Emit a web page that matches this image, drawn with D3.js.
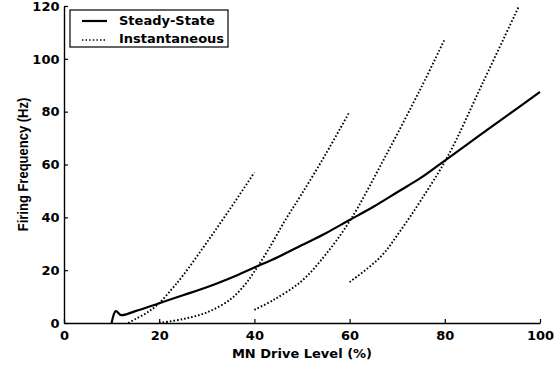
<!DOCTYPE html>
<html>
<head>
<meta charset="utf-8">
<script src="https://cdn.jsdelivr.net/npm/d3@7"></script>
<style>
  body { margin: 0; background: #fff; }
  svg { display: block; }
  .tick text, .lbl { font-family: "DejaVu Sans", sans-serif; font-weight: bold; fill: #000; }
</style>
</head>
<body>
<div id="chart"></div>
<script>
// data (drive level %, firing rate Hz)
const steadyDrive = [10, 10.9, 12, 15, 20, 25, 30, 35, 40, 45, 50, 55, 60, 65, 70, 75, 80, 85, 90, 95, 100];
const steadyFreq  = [0, 4.5, 3, 4.5, 7.5, 10.5, 13.5, 17, 21, 25, 29.5, 34, 39, 44, 49.5, 55, 61.5, 68, 74.5, 81, 87.5];

const instA_drive = [13.5, 15, 17.5, 20, 22.5, 25, 30, 35, 40];
const instA_freq  = [0, 1.5, 4, 7.5, 12.5, 18, 30.5, 43.5, 57];
const instB_drive = [20, 25, 30, 35, 38, 40, 43, 46.5, 50, 55, 60];
const instB_freq  = [0, 1.5, 4, 9, 14.5, 19.5, 28, 39, 49, 64, 80];
const instC_drive = [40, 44, 50, 55, 60, 67.5, 75, 80];
const instC_freq  = [5, 8.7, 16, 26, 38.5, 63, 89, 107.5];
const instD_drive = [60, 66.5, 70.7, 75, 80.6, 88, 95.6];
const instD_freq  = [15.5, 25, 35, 46.5, 63, 91, 120];

const xTicks = [0, 20, 40, 60, 80, 100];
const yTicks = [0, 20, 40, 60, 80, 100, 120];
const legendLabels = ['Steady-State', 'Instantaneous'];
const xTitle = 'MN Drive Level (%)';
const yTitle = 'Firing Frequency (Hz)';

const W = 560, H = 367;
const svg = d3.select('#chart').append('svg').attr('width', W).attr('height', H);

const x = d3.scaleLinear().domain([0, 100]).range([64, 540]);
const y = d3.scaleLinear().domain([0, 120]).range([323, 6]);

// axes, ticks pointing inward
const xAxis = d3.axisBottom(x).tickValues(xTicks).tickSizeInner(-4).tickSizeOuter(0).tickPadding(8);
const yAxis = d3.axisLeft(y).tickValues(yTicks).tickSizeInner(-4).tickSizeOuter(0).tickPadding(4.5);

const gx = svg.append('g').attr('transform', `translate(0,${y(0)})`).call(xAxis);
const gy = svg.append('g').attr('transform', `translate(${x(0)},0)`).call(yAxis);
[gx, gy].forEach(g => {
  g.select('.domain').attr('stroke', '#000').attr('stroke-width', 1.4);
  g.selectAll('.tick line').attr('stroke', '#000').attr('stroke-width', 1.2);
  g.selectAll('.tick text').attr('font-size', 13);
});

// curves
const line = d3.line()
  .x(d => x(d[0]))
  .y(d => y(d[1]))
  .curve(d3.curveCatmullRom.alpha(0.5));

const zipPts = (xs, ys) => xs.map((v, i) => [v, ys[i]]);

const instSeries = [
  zipPts(instA_drive, instA_freq),
  zipPts(instB_drive, instB_freq),
  zipPts(instC_drive, instC_freq),
  zipPts(instD_drive, instD_freq)
];

svg.append('g').selectAll('path')
  .data(instSeries)
  .enter().append('path')
  .attr('d', line)
  .attr('fill', 'none')
  .attr('stroke', '#000')
  .attr('stroke-width', 1.9)
  .attr('stroke-dasharray', '1.6,2');

svg.append('path')
  .datum(zipPts(steadyDrive, steadyFreq))
  .attr('d', line)
  .attr('fill', 'none')
  .attr('stroke', '#000')
  .attr('stroke-width', 2.2)
  .attr('stroke-linejoin', 'round');

// axis titles
svg.append('text')
  .attr('class', 'lbl')
  .attr('x', 302)
  .attr('y', 358)
  .attr('text-anchor', 'middle')
  .attr('font-size', 13)
  .text(xTitle);

svg.append('text')
  .attr('class', 'lbl')
  .attr('transform', `translate(28,${(y(0) + y(120)) / 2}) rotate(-90) scale(1,1.15)`)
  .attr('text-anchor', 'middle')
  .attr('font-size', 13)
  .style('font-family', '"Liberation Sans", Arial, sans-serif')
  .text(yTitle);

// legend
const lg = svg.append('g').attr('transform', 'translate(70,10)');
lg.append('rect')
  .attr('width', 158).attr('height', 37)
  .attr('fill', '#fff').attr('stroke', '#000').attr('stroke-width', 1.2);

lg.append('line')
  .attr('x1', 12).attr('x2', 37).attr('y1', 11).attr('y2', 11)
  .attr('stroke', '#000').attr('stroke-width', 2.2);
lg.append('line')
  .attr('x1', 12).attr('x2', 36).attr('y1', 30).attr('y2', 30)
  .attr('stroke', '#000').attr('stroke-width', 1.6).attr('stroke-dasharray', '1.4,2.2');

lg.selectAll('text.leg')
  .data(legendLabels)
  .enter().append('text')
  .attr('class', 'lbl leg')
  .attr('x', 49)
  .attr('y', (d, i) => 14.5 + i * 18.5)
  .attr('font-size', 13)
  .text(d => d);
</script>
</body>
</html>
